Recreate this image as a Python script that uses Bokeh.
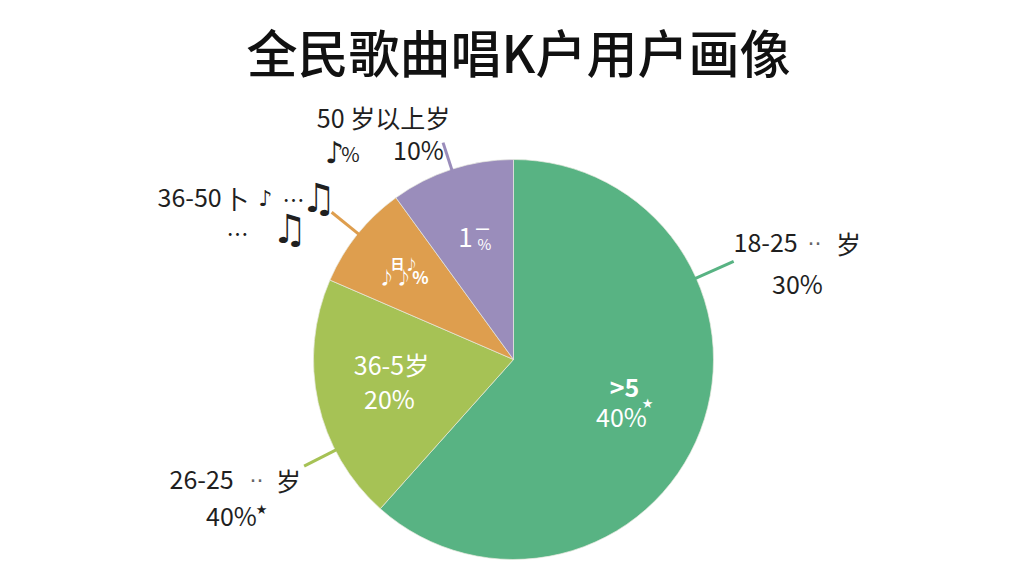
import math
from bokeh.plotting import figure
from bokeh.embed import file_html
from bokeh.resources import INLINE
from bokeh.core.properties import value
from bokeh.models import ColumnDataSource

title_text = "全民歌曲唱K户用户画像"
categories = ["18-25 岁", "26-25 岁", "36-50 岁", "50 岁以上"]
shares = [61.6, 19.9, 8.5, 10.0]
colors = ["#58B383", "#A6C255", "#DE9E4E", "#9A8DBB"]

W, H = 1008, 560
CX, CY, R = 513, 359, 200
def Y(py):
    return 576 - py

p = figure(width=W, height=H, x_range=(0, 1008), y_range=(16, 576),
           output_backend="svg", toolbar_location=None,
           x_axis_type=None, y_axis_type=None, min_border=0)
p.grid.visible = False
p.outline_line_color = None
p.background_fill_color = "#ffffff"

# slices, clockwise from 12 o'clock
starts, ends, a = [], [], math.pi / 2
total = sum(shares)
for s in shares:
    starts.append(a)
    a -= s / total * 2 * math.pi
    ends.append(a)
src = ColumnDataSource(dict(cat=categories, start=starts, end=ends, color=colors))
p.wedge(x=CX, y=Y(CY), radius=R, start_angle="start", end_angle="end", direction="clock",
        fill_color="color", line_color="#e8eadf", line_width=1, line_alpha=0.7, source=src)

# leader lines: (clockwise angle from top in degrees, inner radius, outer radius)
leaders = [(66.0, 198, 241, 0), (243.0, 198, 235, 1), (309.0, 198, 234, 2), (342.0, 198, 228, 3)]
for deg, r0, r1, i in leaders:
    t = math.radians(deg)
    p.line([CX + r0 * math.sin(t), CX + r1 * math.sin(t)],
           [Y(CY - r0 * math.cos(t)), Y(CY - r1 * math.cos(t))],
           line_color=colors[i], line_width=3)

DARK = "#1f1f1f"
WHITE = "#ffffff"
CJK = "Noto Sans CJK SC"
MED = "Noto Sans CJK SC Medium"
MUS = "DejaVu Sans"
# text, x, y (reference px), size, colour, align, font, style
texts = [
    (title_text, 518, 50, 51, "#111111", "center", MED, "normal"),
    ("50 岁以上岁", 383, 116, 25, DARK, "center", CJK, "normal"),
    ("10%", 418, 148, 25, DARK, "center", CJK, "normal"),
    ("♪", 334, 152, 30, DARK, "center", MUS, "bold"),
    ("%", 350, 153, 20, DARK, "center", CJK, "normal"),
    ("36-50", 157, 197, 25, DARK, "left", CJK, "normal"),
    ("卜", 236, 197, 25, DARK, "center", CJK, "normal"),
    ("♪", 265, 198, 22, DARK, "center", MUS, "normal"),
    ("…", 293, 197, 22, DARK, "center", CJK, "normal"),
    ("♫", 318, 197, 40, DARK, "center", MUS, "bold"),
    ("…", 237, 231, 22, DARK, "center", CJK, "normal"),
    ("♫", 289, 228, 40, DARK, "center", MUS, "bold"),
    ("18-25", 733, 242, 25, DARK, "left", CJK, "normal"),
    ("··", 814, 243, 22, "#666666", "center", MUS, "normal"),
    ("岁", 848, 242, 25, DARK, "center", CJK, "normal"),
    ("30%", 797, 282, 25, DARK, "center", CJK, "normal"),
    ("26-25", 169, 479, 25, DARK, "left", CJK, "normal"),
    ("··", 256, 480, 22, "#666666", "center", MUS, "normal"),
    ("岁", 288, 479, 25, DARK, "center", CJK, "normal"),
    ("40%", 231, 514, 25, DARK, "center", CJK, "normal"),
    ("★", 261, 509, 13, DARK, "center", MUS, "normal"),
    ("36-5岁", 391, 363, 25, WHITE, "center", CJK, "normal"),
    ("20%", 389, 397, 25, WHITE, "center", CJK, "normal"),
    (">5", 624, 385, 25, WHITE, "center", CJK, "bold"),
    ("40%", 621, 415, 25, WHITE, "center", CJK, "normal"),
    ("★", 647, 403, 13, WHITE, "center", MUS, "normal"),
    ("1", 465, 237, 26, WHITE, "center", CJK, "normal"),
    ("—", 482, 226, 16, WHITE, "center", CJK, "bold"),
    ("%", 484, 243, 15, WHITE, "center", CJK, "normal"),
    ("日♪", 404, 262, 14, WHITE, "center", CJK, "bold"),
    ("♪♪%", 403, 276, 17, WHITE, "center", CJK, "bold"),
]
for txt, x, y, size, col, align, font, style in texts:
    p.text(x=[x], y=[Y(y)], text=[txt], text_font=value(font), text_font_size=f"{size}px",
           text_font_style=style, text_color=col, text_align=align, text_baseline="middle")

open("out.html", "w").write(file_html(p, INLINE))
